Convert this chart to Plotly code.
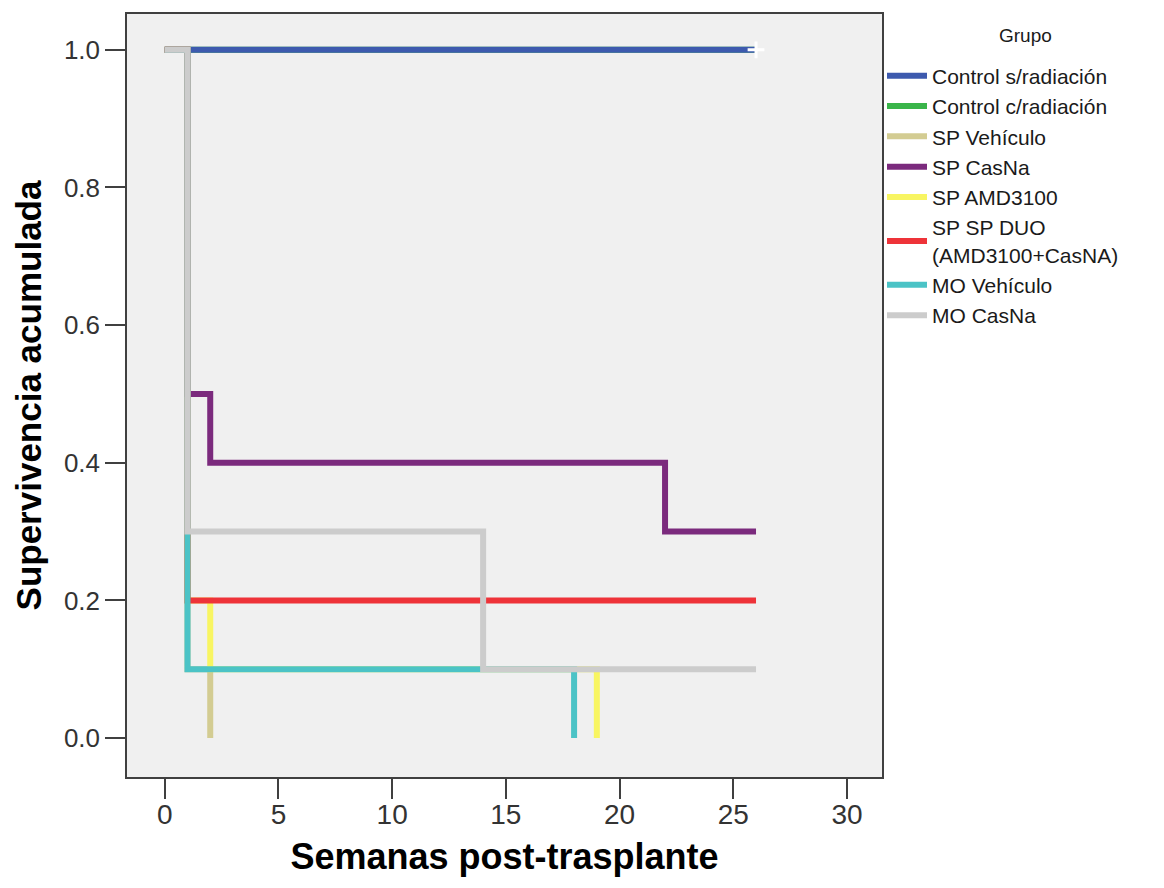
import plotly.graph_objects as go

# Kaplan-Meier step data (weeks, cumulative survival)
groups = ["Control s/radiación", "Control c/radiación", "SP Vehículo", "SP CasNa",
          "SP AMD3100", "SP SP DUO<br>(AMD3100+CasNA)", "MO Vehículo", "MO CasNa"]
colors = ["#3d5aae", "#3ab54a", "#d3cc92", "#7b2a7d", "#f8f562", "#ee3339", "#4bc3c6", "#cccccc"]

ctrl_s_x = [0, 26]
ctrl_s_y = [1.0, 1.0]
ctrl_c_x = [0, 26]
ctrl_c_y = [1.0, 1.0]
sp_veh_x = [0, 1, 2]
sp_veh_y = [1.0, 0.1, 0.0]
sp_casna_x = [0, 1, 2, 22, 26]
sp_casna_y = [1.0, 0.5, 0.4, 0.3, 0.3]
sp_amd_x = [0, 1, 2, 19]
sp_amd_y = [1.0, 0.2, 0.1, 0.0]
sp_duo_x = [0, 1, 26]
sp_duo_y = [1.0, 0.2, 0.2]
mo_veh_x = [0, 1, 18]
mo_veh_y = [1.0, 0.1, 0.0]
mo_casna_x = [0, 1, 14, 26]
mo_casna_y = [1.0, 0.3, 0.1, 0.1]

censor_x = [26]
censor_y = [1.0]

xs = [ctrl_s_x, ctrl_c_x, sp_veh_x, sp_casna_x, sp_amd_x, sp_duo_x, mo_veh_x, mo_casna_x]
ys = [ctrl_s_y, ctrl_c_y, sp_veh_y, sp_casna_y, sp_amd_y, sp_duo_y, mo_veh_y, mo_casna_y]

draw_order = [1, 2, 0, 3, 4, 5, 6, 7]

fig = go.Figure()
for i in draw_order:
    fig.add_trace(go.Scatter(
        x=xs[i], y=ys[i], mode="lines", line_shape="hv",
        line=dict(color=colors[i], width=6),
        name=groups[i], legendrank=i + 1,
    ))

fig.add_trace(go.Scatter(
    x=censor_x, y=censor_y, mode="markers", showlegend=False,
    marker=dict(symbol="cross-thin", size=12, line=dict(color="white", width=3)),
))

axis_common = dict(showline=True, mirror=True, linecolor="#404040", linewidth=1.5,
                   ticks="outside", ticklen=20, tickwidth=1.5, tickcolor="#404040",
                   showgrid=False, zeroline=False)

fig.update_layout(
    width=1164, height=888,
    margin=dict(l=119, r=290, t=4, b=119),
    paper_bgcolor="white", plot_bgcolor="#f0f0f0",
    font=dict(family="Liberation Sans, Arial, sans-serif", color="#222222"),
    xaxis=dict(range=[-1.66, 31.54], tickvals=[0, 5, 10, 15, 20, 25, 30],
               tickfont=dict(size=28, color="#333333"), ticklabelstandoff=-8,
               title=dict(text="<b>Semanas post-trasplante</b>", font=dict(size=36, color="black"), standoff=14),
               **axis_common),
    yaxis=dict(range=[-0.0565, 1.052], tickvals=[0, 0.2, 0.4, 0.6, 0.8, 1.0], tickformat=".1f",
               tickfont=dict(size=26, color="#333333"),
               title=dict(text="<b>Supervivencia acumulada</b>", font=dict(size=35, color="black"), standoff=12),
               **axis_common),
    legend=dict(x=1.0, y=0.9455, xanchor="left", yanchor="top",
                font=dict(size=21, color="#1a1a1a"),
                bgcolor="rgba(0,0,0,0)", tracegroupgap=0, itemwidth=40),
    annotations=[dict(text="Grupo", xref="paper", yref="paper", x=1.19, y=0.972,
                      xanchor="center", yanchor="middle", showarrow=False,
                      font=dict(size=19, color="#1a1a1a"))],
)

fig.write_html("out.html")
